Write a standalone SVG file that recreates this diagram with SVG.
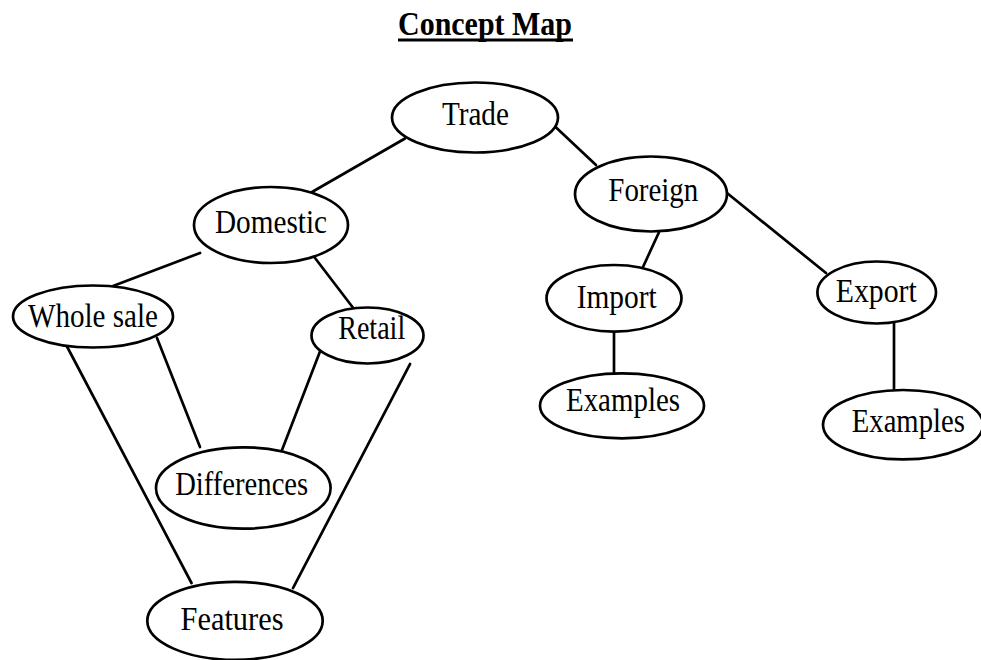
<svg xmlns="http://www.w3.org/2000/svg" width="981" height="660" viewBox="0 0 981 660">
  <style>
    .node ellipse { fill: #ffffff; stroke: #000000; stroke-width: 2.7; }
    .node text { font-family: "Liberation Serif", "Times New Roman", serif; font-size: 33px; fill: #000000; text-anchor: middle; }
    #connectors line { stroke: #000000; stroke-width: 2.7; stroke-linecap: round; }
    .title { font-family: "Liberation Serif", "Times New Roman", serif; font-size: 33px; font-weight: bold; fill: #000000; }
  </style>
  <rect width="981" height="660" fill="#ffffff"/>

  <!-- Heading -->
  <g id="title">
    <text class="title" x="398" y="35" textLength="174" lengthAdjust="spacingAndGlyphs">Concept Map</text>
    <rect x="398" y="38.5" width="175" height="3" fill="#000000"/>
  </g>

  <!-- Links between concepts -->
  <g id="connectors">
    <line x1="405" y1="138.5" x2="312" y2="192"/>
    <line x1="555" y1="126.5" x2="596" y2="165"/>
    <line x1="200" y1="253" x2="113" y2="286"/>
    <line x1="315" y1="258" x2="354" y2="309"/>
    <line x1="660" y1="230" x2="643" y2="267"/>
    <line x1="727" y1="193" x2="826" y2="273"/>
    <line x1="614" y1="331" x2="614" y2="373"/>
    <line x1="894" y1="323" x2="894" y2="390"/>
    <line x1="67" y1="346.5" x2="191.5" y2="583"/>
    <line x1="157" y1="338" x2="200" y2="447"/>
    <line x1="320" y1="351.5" x2="282" y2="450"/>
    <line x1="410" y1="364" x2="293" y2="588"/>
  </g>

  <g id="trade" class="node">
    <ellipse cx="475" cy="117.5" rx="83" ry="35"/>
    <text x="475.4" y="125" textLength="67" lengthAdjust="spacingAndGlyphs">Trade</text>
  </g>

  <g id="domestic" class="node">
    <ellipse cx="271" cy="225" rx="77" ry="38"/>
    <text x="271" y="232.7" textLength="112" lengthAdjust="spacingAndGlyphs">Domestic</text>
  </g>

  <g id="foreign" class="node">
    <ellipse cx="651" cy="194" rx="76" ry="37.5"/>
    <text x="653.3" y="200.7" textLength="90" lengthAdjust="spacingAndGlyphs">Foreign</text>
  </g>

  <g id="wholesale" class="node">
    <ellipse cx="93" cy="316.5" rx="80" ry="31"/>
    <text x="93" y="326.5" textLength="130" lengthAdjust="spacingAndGlyphs">Whole sale</text>
  </g>

  <g id="retail" class="node">
    <ellipse cx="367.5" cy="335.5" rx="56" ry="28"/>
    <text x="371.7" y="339.3" textLength="67" lengthAdjust="spacingAndGlyphs">Retail</text>
  </g>

  <g id="import" class="node">
    <ellipse cx="614" cy="298.3" rx="67.5" ry="33.3"/>
    <text x="616.7" y="308.3" textLength="80" lengthAdjust="spacingAndGlyphs">Import</text>
  </g>

  <g id="export" class="node">
    <ellipse cx="876.7" cy="292.5" rx="59.3" ry="31"/>
    <text x="876.3" y="301.7" textLength="81" lengthAdjust="spacingAndGlyphs">Export</text>
  </g>

  <g id="import-examples" class="node">
    <ellipse cx="622" cy="405.8" rx="82" ry="32.5"/>
    <text x="623" y="410.7" textLength="114" lengthAdjust="spacingAndGlyphs">Examples</text>
  </g>

  <g id="export-examples" class="node">
    <ellipse cx="903" cy="424.7" rx="80" ry="34.7"/>
    <text x="908.3" y="431.7" textLength="113" lengthAdjust="spacingAndGlyphs">Examples</text>
  </g>

  <g id="differences" class="node">
    <ellipse cx="243.3" cy="488" rx="87.3" ry="40.7"/>
    <text x="241.7" y="495" textLength="133" lengthAdjust="spacingAndGlyphs">Differences</text>
  </g>

  <g id="features" class="node">
    <ellipse cx="235" cy="620.8" rx="87.7" ry="39"/>
    <text x="232" y="630" textLength="103" lengthAdjust="spacingAndGlyphs">Features</text>
  </g>
</svg>
